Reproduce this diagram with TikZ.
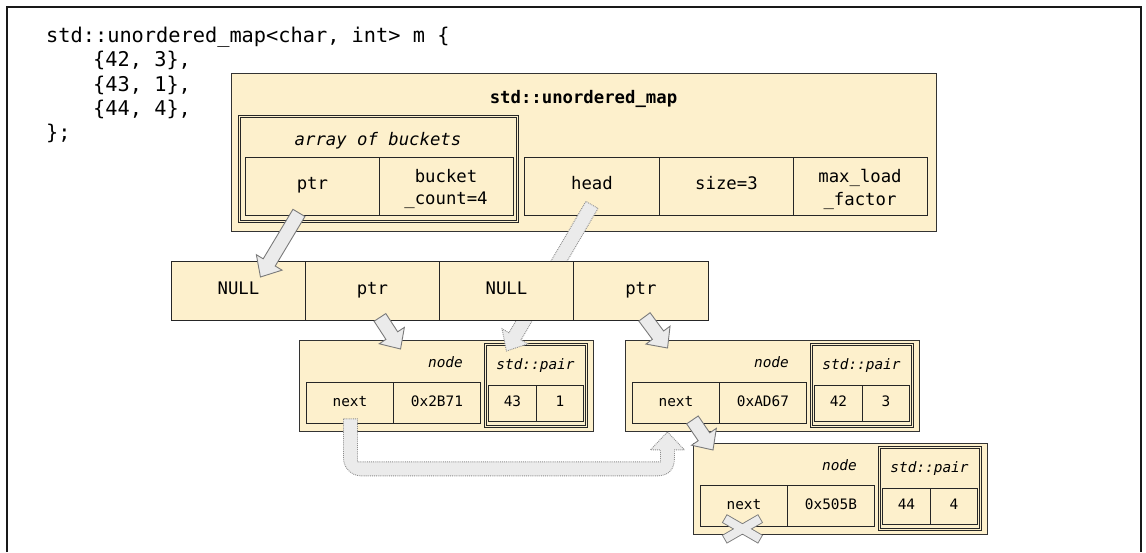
\documentclass[tikz,border=0pt]{standalone}
\usepackage{fontspec}
\setmonofont{DejaVu Sans Mono}
\usetikzlibrary{calc}
\definecolor{boxfill}{HTML}{FDF0CC}
\definecolor{arrfill}{HTML}{EBEBEB}
\definecolor{arrline}{HTML}{7A7A7A}
\newcommand\bigfont{\ttfamily\fontsize{17.3}{20}\selectfont}
\newcommand\smallfont{\ttfamily\fontsize{14.4}{17}\selectfont}
\newcommand\codefont{\ttfamily\fontsize{20.3}{24}\selectfont}
\tikzset{
  frameline/.style={line width=2.4pt, draw=black!90},
  codetxt/.style={anchor=base west, inner sep=0pt, font=\codefont},
  bigtxt/.style={anchor=base, inner sep=0pt, font=\bigfont},
  smalltxt/.style={anchor=base, inner sep=0pt, font=\smallfont\itshape},
  outerbox/.style={draw=black!80, fill=boxfill, line width=1.1pt, anchor=north west, inner sep=0pt},
  bigcell/.style={draw=black!85, fill=boxfill, line width=0.9pt, anchor=north west, inner sep=0pt,
     text height=1.5ex, text depth=0pt, font=\bigfont},
  smallcell/.style={draw=black!85, fill=boxfill, line width=0.9pt, anchor=north west, inner sep=0pt,
     text height=1.5ex, text depth=0pt, font=\smallfont},
  dblbox/.style={draw=black!85, double=boxfill, double distance=1.3pt, line width=0.8pt, fill=boxfill,
     anchor=north west, inner sep=0pt},
  arrsolid/.style={draw=arrline, fill=arrfill, line width=0.9pt, line join=miter},
  arrdot/.style={draw=arrline!85, fill=arrfill, line width=0.9pt, densely dotted, line join=miter},
}
% block arrow: #1 style, #2 from, #3 to, #4 half shaft, #5 half head, #6 head length
\newcommand\blkarrow[6]{%
  \path[#1] let \p1=($(#3)-(#2)$), \n1={atan2(\y1,\x1)}, \n2={veclen(\x1,\y1)-#6} in
    ($(#2)+(\n1+90:#4pt)$) -- ($(#2)+(\n1:\n2)+(\n1+90:#4pt)$) -- ($(#2)+(\n1:\n2)+(\n1+90:#5pt)$)
    -- (#3) -- ($(#2)+(\n1:\n2)+(\n1-90:#5pt)$) -- ($(#2)+(\n1:\n2)+(\n1-90:#4pt)$)
    -- ($(#2)+(\n1-90:#4pt)$) -- cycle;}
% list node: #1 id, #2 x0, #3 y0, #4 address, #5 key, #6 value
\newcommand\listnode[6]{%
  \begin{scope}[shift={(#2,#3)}]
    \node[outerbox, minimum width=294pt, minimum height=91pt] (#1box) at (0,0) {};
    \node[smallcell, minimum width=87pt, minimum height=41pt] (#1next) at (7,42) {next};
    \node[smallcell, minimum width=87pt, minimum height=41pt] (#1addr) at (94,42) {#4};
    \node[dblbox, minimum width=101pt, minimum height=82pt] (#1pair) at (186,4) {};
    \node[smallcell, minimum width=48pt, minimum height=36pt] (#1key) at (189,45) {#5};
    \node[smallcell, minimum width=47pt, minimum height=36pt] (#1val) at (237,45) {#6};
    \node[smalltxt, anchor=base east] (#1lbl) at (164,27) {node};
    \node[smalltxt] (#1plbl) at (236.5,29) {std::pair};
  \end{scope}}
\begin{document}
\begin{tikzpicture}[x=1pt,y=-1pt]
\useasboundingbox[fill=white] (0,0) rectangle (1146,552);
\draw[frameline] (7,552) -- (7,7) -- (1141,7) -- (1141,552);

% code
\node[codetxt] (c1) at (46,42) {std::unordered\_map<char, int> m \{};
\node[codetxt] (c2) at (93,66.5) {\{42, 3\},};
\node[codetxt] (c3) at (93,91) {\{43, 1\},};
\node[codetxt] (c4) at (93,115) {\{44, 4\},};
\node[codetxt] (c5) at (46,139.5) {\};};

% main structure
\node[outerbox, minimum width=705pt, minimum height=158pt] (umap) at (231,73) {};
\node[bigtxt, font=\bigfont\bfseries] (umaptitle) at (583.5,103) {std::unordered\_map};
\node[dblbox, minimum width=278pt, minimum height=105pt] (arrbox) at (239,116) {};
\node[bigtxt, font=\bigfont\itshape] (arrlbl) at (378,145) {array of buckets};
\node[bigcell, minimum width=134pt, minimum height=58pt] (bptr) at (245,157) {ptr};
\node[bigcell, minimum width=134pt, minimum height=58pt] (bcount) at (379,157) {};
\node[bigtxt] (bcount1) at (446,182) {bucket};
\node[bigtxt] (bcount2) at (446,204) {\_count=4};
\node[bigcell, minimum width=135pt, minimum height=58pt] (head) at (524,157) {head};
\node[bigcell, minimum width=134pt, minimum height=58pt] (size) at (659,157) {size=3};
\node[bigcell, minimum width=134pt, minimum height=58pt] (mlf) at (793,157) {};
\node[bigtxt] (mlf1) at (860,182) {max\_load};
\node[bigtxt] (mlf2) at (860,205) {\_factor};

% list nodes
\listnode{na}{299}{340}{0x2B71}{43}{1}
\listnode{nb}{625}{340}{0xAD67}{42}{3}
\listnode{nc}{693}{443}{0x505B}{44}{4}

% head -> first node (dotted, passes under bucket array)
\coordinate (hs) at ($(head.south)+(0,-11)$);
\coordinate (he) at ($(napair.north)+(-29.5,7)$);
\blkarrow{arrdot}{hs}{he}{7}{15}{17}

% bucket array
\node[bigcell, minimum width=134pt, minimum height=59pt] (b0) at (171,261) {NULL};
\node[bigcell, minimum width=134pt, minimum height=59pt] (b1) at (305,261) {ptr};
\node[bigcell, minimum width=134pt, minimum height=59pt] (b2) at (439,261) {NULL};
\node[bigcell, minimum width=135pt, minimum height=59pt] (b3) at (573,261) {ptr};

% solid block arrows
\coordinate (a1s) at ($(bptr.south)+(-13.5,-3)$);
\coordinate (a1e) at ($(b0.north)+(22,16)$);
\blkarrow{arrsolid}{a1s}{a1e}{7}{15}{17}
\coordinate (a2s) at ($(b1.south)+(7.5,-3.5)$);
\coordinate (a2e) at ($(nabox.north)+(-46,9)$);
\blkarrow{arrsolid}{a2s}{a2e}{7}{15}{16}
\coordinate (a3s) at ($(b3.south)+(3.5,-4)$);
\coordinate (a3e) at ($(nbbox.north)+(-105,8)$);
\blkarrow{arrsolid}{a3s}{a3e}{7}{15}{16}
\coordinate (a4s) at ($(nbnext.south)+(16.5,-4)$);
\coordinate (a4e) at ($(ncbox.north west)+(20,7)$);
\blkarrow{arrsolid}{a4s}{a4e}{7}{15}{16}

% dotted U arrow: first node next -> second node
\begin{scope}[shift={(nanext.south)}]
\path[arrdot] (-6.5,-5) -- (-6.5,34) .. controls (-6.5,44) and (1.5,52) .. (11.5,52)
  -- (306.5,52) .. controls (318.5,52) and (324.5,46) .. (324.5,34) -- (324.5,26)
  -- (334.5,26) -- (317.5,8) -- (300.5,26) -- (310.5,26) -- (310.5,38) -- (7.5,38)
  -- (7.5,-5) -- cycle;
\end{scope}

% X mark (null next)
\begin{scope}[shift={(ncnext.south)}]
\node[draw=arrline, line width=1.8pt, minimum width=40pt, minimum height=8pt, inner sep=0pt, rotate=30] (xa) at (-1.5,2) {};
\node[draw=arrline, line width=1.8pt, minimum width=40pt, minimum height=8pt, inner sep=0pt, rotate=-30] (xb) at (-1.5,2) {};
\node[fill=arrfill, minimum width=40pt, minimum height=8pt, inner sep=0pt, rotate=30] (xc) at (-1.5,2) {};
\node[fill=arrfill, minimum width=40pt, minimum height=8pt, inner sep=0pt, rotate=-30] (xd) at (-1.5,2) {};
\end{scope}
\end{tikzpicture}
\end{document}
